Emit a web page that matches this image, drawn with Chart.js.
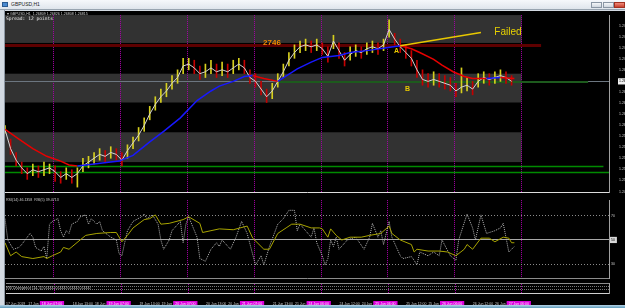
<!DOCTYPE html>
<html>
<head>
<meta charset="utf-8">
<script src="https://cdn.jsdelivr.net/npm/chart.js"></script>
<style>
body{margin:0;width:625px;height:308px;background:#d3dae2;position:relative;overflow:hidden;font-family:"Liberation Sans",Arial,sans-serif}
#title{position:absolute;left:0;top:0;width:625px;height:10px;background:linear-gradient(#f6f8fb,#dfe5ec);border-bottom:1px solid #98a4b0;box-sizing:border-box}
#title .ico{position:absolute;left:2px;top:2px;width:6px;height:5px;background:#4a8ad0;border:1px solid #2a5a90;box-sizing:border-box}
#title .tt{position:absolute;left:11px;top:1px;font-size:5px;line-height:7px;color:#222}
.btn{position:absolute;top:2px;height:6px;border:1px solid #8a96a4;box-sizing:border-box;background:linear-gradient(#f4f6f8,#cfd6de)}
#left{position:absolute;left:4px;top:10px;width:1px;height:296px;background:#8d98a4}
#panel{position:absolute;left:5px;top:11px;width:620px;height:294px;background:#000}
#bottom{position:absolute;left:0;top:305px;width:625px;height:3px;background:linear-gradient(#b8d4e6,#5e9cbc)}
canvas{position:absolute;left:5px}
.txt{position:absolute;color:#d0d0d0;white-space:nowrap}
</style>
</head>
<body>
<div id="title"><div class="ico"></div><div class="tt">GBPUSD,H1</div>
<div class="btn" style="left:591px;width:11px"></div>
<div class="btn" style="left:603px;width:11px"></div>
<div class="btn" style="left:614px;width:11px;background:linear-gradient(#f08a7a,#c8402e);border-color:#a03020"></div>
</div>
<div id="left"></div>
<div id="panel"></div>
<div id="bottom"></div>
<canvas id="main" width="620" height="186" style="top:11px"></canvas>
<canvas id="rsi" width="620" height="87" style="top:196px"></canvas>
<canvas id="div" width="620" height="22" style="top:283px"></canvas>
<div class="txt" style="left:7px;top:12px;font-size:3.6px">&#9662; GBPUSD,H1&nbsp; 1.26809 1.26826 1.26808 1.26815</div>
<div class="txt" style="left:6px;top:16px;font-size:4.6px;font-family:'DejaVu Sans Mono',monospace;color:#e8e8e8">Spread: 12 points</div>
<div class="txt" style="left:6px;top:198px;font-size:3.6px;color:#c8c8c8">RSI(14) 46.1358&nbsp; RSI(5) 39.4713</div>
<div class="txt" style="left:6px;top:286px;font-size:3.6px;color:#c8c8c8">RSI Divergence (14, 5) 0.0000 0.0000 0.0000 0.0000</div>

<script>
// PRICE DATA (GBPUSD H1, hour index from chart start, every 2nd bar)
const barHours = [0,2,4,6,8,10,12,14,16,18,20,22,24,26,28,30,32,34,36,38,40,42,44,46,48,50,52,54,56,58,
  60,62,64,66,68,70,72,74,76,78,80,82,84,86,88,90,92,94,96,98,100,102,104,106,108,110,112,114,116,118,
  120,122,124,126,128,130,132,134,136,138,140,142,144,146,148,150,152,154,156,158,160,162,164,166,168,170,172,174,176,178,180,182];
const closes = [1.25937,1.25607,1.25409,1.25277,1.25178,1.25244,1.25211,1.25244,1.25277,1.25211,
  1.25112,1.25178,1.25112,1.25178,1.25310,1.25376,1.25442,1.25508,1.25475,1.25541,
  1.25508,1.25409,1.25574,1.25706,1.25838,1.26003,1.26201,1.26366,1.26498,1.26597,
  1.26729,1.26828,1.27026,1.27059,1.26993,1.26894,1.26927,1.26993,1.26927,1.26960,
  1.26927,1.26993,1.27059,1.26993,1.26828,1.26762,1.26630,1.26498,1.26597,1.26762,
  1.26927,1.27125,1.27257,1.27356,1.27389,1.27356,1.27389,1.27323,1.27191,1.27455,
  1.27290,1.27125,1.27224,1.27290,1.27257,1.27323,1.27356,1.27323,1.27389,1.27653,
  1.27488,1.27356,1.27257,1.27158,1.26960,1.26795,1.26762,1.26795,1.26762,1.26729,
  1.26696,1.26597,1.26663,1.26696,1.26630,1.26762,1.26828,1.26795,1.26828,1.26861,
  1.26828,1.26762];
const highs = [1.26003,1.25772,1.25541,1.25376,1.25277,1.25343,1.25310,1.25376,1.25343,1.25310,
  1.25211,1.25277,1.25244,1.25277,1.25442,1.25475,1.25541,1.25607,1.25574,1.25640,
  1.25607,1.25541,1.25673,1.25805,1.25970,1.26135,1.26333,1.26498,1.26630,1.26729,
  1.26861,1.26960,1.27158,1.27158,1.27125,1.27026,1.27059,1.27125,1.27059,1.27092,
  1.27059,1.27125,1.27158,1.27125,1.26960,1.26894,1.26762,1.26630,1.26729,1.26894,
  1.27059,1.27257,1.27389,1.27455,1.27488,1.27455,1.27488,1.27422,1.27356,1.27554,
  1.27422,1.27257,1.27356,1.27389,1.27356,1.27422,1.27455,1.27422,1.27488,1.27818,
  1.27587,1.27488,1.27389,1.27290,1.27125,1.26960,1.26894,1.26927,1.26894,1.26861,
  1.26828,1.26729,1.26993,1.26828,1.26762,1.26894,1.26927,1.26894,1.26927,1.26960,
  1.26927,1.26861];
const lows = [1.25871,1.25508,1.25310,1.25178,1.25079,1.25145,1.25112,1.25145,1.25178,1.25046,
  1.25013,1.25079,1.25013,1.24947,1.25211,1.25277,1.25343,1.25409,1.25376,1.25442,
  1.25409,1.25310,1.25442,1.25607,1.25739,1.25904,1.26102,1.26267,1.26399,1.26498,
  1.26630,1.26729,1.26894,1.26960,1.26894,1.26795,1.26828,1.26894,1.26828,1.26861,
  1.26828,1.26894,1.26960,1.26894,1.26729,1.26663,1.26531,1.26399,1.26465,1.26663,
  1.26828,1.27026,1.27158,1.27257,1.27290,1.27257,1.27290,1.27224,1.27092,1.27323,
  1.27158,1.27026,1.27125,1.27191,1.27158,1.27224,1.27257,1.27224,1.27290,1.27521,
  1.27389,1.27257,1.27158,1.27026,1.26828,1.26696,1.26663,1.26696,1.26663,1.26630,
  1.26597,1.26498,1.26564,1.26597,1.26531,1.26663,1.26729,1.26696,1.26729,1.26762,
  1.26729,1.26696];
const lastPrice = 1.26762;

// MOVING AVERAGE
const maHours = [0,5,10,15,20,23,26,32,38,41,46,52,57,63,69,74,77,82,86,89,93,98,105,110,114,120,124,130,137,142,146,149,154,157,161,165,168,173,178,183];
const maValues = [1.25937,1.25772,1.25607,1.25475,1.25393,1.25327,1.25310,1.25343,1.25376,1.25393,
  1.25491,1.25722,1.25904,1.26135,1.26432,1.26597,1.26680,1.26762,1.26845,1.26861,
  1.26812,1.26762,1.26977,1.27092,1.27174,1.27207,1.27257,1.27290,1.27339,1.27372,
  1.27323,1.27257,1.27141,1.27042,1.26927,1.26845,1.26812,1.26812,1.26828,1.26812];

// TREND LINE (A -> Failed)
const trendHours = [142,171];
const trendPrices = [1.27372,1.27603];

// RSI(14) solid and RSI(5) dotted
const rsiSlowHours = [0,2,4,6,10,14,15,17,20,21,23,27,29,33,38,40,42,44,46,50,52,54,56,59,64,66,70,71,74,77,
  82,87,89,93,95,98,101,103,106,110,113,114,116,117,119,121,124,128,131,135,138,139,142,146,147,148,152,156,159,162,
  165,166,168,171,174,176,179,181,182,183];
const rsiSlow = [47.7,36.9,40.0,36.2,34.6,36.2,34.6,36.9,40.0,43.8,42.3,50.0,53.8,55.4,56.2,56.2,48.5,53.8,60.0,66.9,
  67.7,70.8,63.1,63.8,66.9,69.2,63.8,56.2,57.7,59.2,58.5,61.5,51.5,42.3,42.3,55.4,60.0,63.1,63.1,60.0,
  60.0,59.2,52.3,59.2,53.8,50.0,52.3,52.3,53.8,55.4,61.5,55.4,50.0,46.2,40.0,42.3,40.8,40.8,40.0,36.9,
  42.3,46.2,42.3,51.5,51.5,48.5,52.3,51.5,47.7,47.7];
const rsiFastHours = [0,1,3,5,6,9,10,11,13,14,15,16,17,19,20,21,22,23,24,26,27,29,30,31,33,34,35,38,40,41,
  42,43,44,46,49,50,51,53,55,56,57,59,60,63,64,65,66,69,70,72,74,76,77,78,81,83,85,87,90,92,
  93,95,98,100,102,104,105,106,108,110,111,112,114,115,116,117,118,119,120,123,126,129,131,132,134,135,136,138,139,142,
  143,146,147,148,149,152,154,156,157,160,162,163,166,168,169,171,173,176,178,179,181,183];
const rsiFast = [67.7,50.0,42.3,43.8,46.2,55.4,52.3,43.8,40.8,44.6,34.6,63.1,65.4,67.7,57.7,52.3,57.7,55.4,63.1,65.4,
  69.2,70.8,63.1,67.7,63.1,65.4,57.7,52.3,50.0,38.5,36.9,47.7,57.7,65.4,69.2,71.5,67.7,70.8,63.1,50.0,
  42.3,50.0,57.7,65.4,47.7,63.1,69.2,52.3,34.6,32.3,42.3,47.7,44.6,50.0,42.3,52.3,65.4,55.4,29.2,36.9,
  29.2,44.6,63.1,67.7,74.6,74.6,57.7,63.1,57.7,52.3,60.0,47.7,36.9,29.2,34.6,50.0,44.6,52.3,42.3,50.0,
  52.3,42.3,52.3,63.8,52.3,57.7,46.2,65.4,52.3,36.9,34.6,36.2,33.1,29.2,40.0,36.9,40.0,36.9,50.0,36.9,
  33.1,50.0,71.5,60.0,50.0,70.8,55.4,57.7,60.0,63.8,40.0,44.6];
const rsiLevels = [30,50,70];

// AXES
const priceTicks = [1.27720,1.27530,1.27340,1.27150,1.26960,1.26580,1.26390,1.26200,1.26010,1.25820,1.25630,1.25440,1.25250,1.25060,1.24870];
const daySeps = [17.6,41.6,65.6,89.6,113.6,137.6,161.6,185.6];
const timeTickHours = [0,8,24,32,48,56,72,80,96,104,120,128,144,152,168,176];
const timeTickLabels = ['17 Jun 2019','17 Jun 21:00','18 Jun 13:00','18 Jun 21:00','19 Jun 13:00','19 Jun 21:00','20 Jun 13:00','20 Jun 21:00',
  '21 Jun 13:00','21 Jun 21:00','24 Jun 12:00','24 Jun 20:00','25 Jun 12:00','25 Jun 20:00','26 Jun 12:00','26 Jun 20:00'];
const sepLabels = ['18 Jun 07:00','19 Jun 07:00','20 Jun 07:00','21 Jun 07:00','24 Jun 06:00','25 Jun 06:00','26 Jun 06:00','27 Jun 06:00'];

// ZONES, LEVEL LINES, NOTES
const zones = [[1.27422,1.27900],[1.26399,1.26894],[1.25376,1.25888]];
const zoneEnd = 185.6;
const hLines = [
  {price:1.27389, from:0, to:192.6, color:'#5e0000', width:3},
  {price:1.26762, from:0, to:217, color:'#6c7680', width:1},
  {price:1.26746, from:97.7, to:209.5, color:'#1d5a1d', width:2},
  {price:1.25310, from:0, to:215, color:'#008a00', width:1.5},
  {price:1.25211, from:0, to:217, color:'#008a00', width:1.5}
];
const notes = [
  {text:'2746', hour:95.9, price:1.27430, color:'#f08a00', font:'600 8px "Liberation Sans"'},
  {text:'Failed', hour:180.7, price:1.27604, color:'#e8d200', font:'10px "Liberation Sans"'},
  {text:'A', hour:140.7, price:1.27274, color:'#e8c800', font:'bold 7px "Liberation Sans"'},
  {text:'B', hour:144.6, price:1.26630, color:'#e8c800', font:'bold 7px "Liberation Sans"'}
];

const X_MIN = 0, X_MAX = 217;
const PRICE_MIN = 1.24847, PRICE_MAX = 1.27900;
const RSI_MIN = 17.69, RSI_MAX = 83.08;
const CLEAR = 'rgba(0,0,0,0)';

Chart.defaults.font.family = '"Liberation Sans", Arial, sans-serif';

const common = {
  responsive:false, animation:false, devicePixelRatio:1, events:[],
  plugins:{legend:{display:false}, tooltip:{enabled:false}}
};

// x axis with day separators as dotted magenta grid lines
function sepAxis(position, borderColor, height){
  return {
    type:'linear', position, min:X_MIN, max:X_MAX, offset:false,
    afterBuildTicks: s => { s.ticks = daySeps.map(v => ({value:v})); },
    afterFit: s => { s.height = height; },
    ticks:{display:false},
    grid:{color:'#a800a8', drawTicks:false, offset:false},
    border:{display:true, color:borderColor, dash: c => c.tick ? [1,1] : []}
  };
}

// zones + horizontal lines under the price
const zonePlugin = {
  id:'zones',
  beforeDraw(chart){
    const {ctx, chartArea, scales:{x, y}} = chart;
    ctx.save();
    ctx.fillStyle = '#323232';
    zones.forEach(z => {
      const top = y.getPixelForValue(z[1]), bot = y.getPixelForValue(z[0]);
      ctx.fillRect(chartArea.left, top, x.getPixelForValue(zoneEnd) - chartArea.left, bot - top);
    });
    ctx.restore();
  },
  beforeDatasetsDraw(chart){
    const {ctx, scales:{x, y}} = chart;
    ctx.save();
    hLines.forEach(l => {
      const py = Math.round(y.getPixelForValue(l.price)) + (l.width % 2 ? 0.5 : 0);
      ctx.strokeStyle = l.color; ctx.lineWidth = l.width;
      ctx.beginPath(); ctx.moveTo(x.getPixelForValue(l.from), py); ctx.lineTo(x.getPixelForValue(l.to), py); ctx.stroke();
    });
    ctx.restore();
  },
  afterDatasetsDraw(chart){
    const {ctx, scales:{x, y}} = chart;
    ctx.save();
    ctx.textAlign = 'center'; ctx.textBaseline = 'middle';
    notes.forEach(n => {
      ctx.font = n.font; ctx.fillStyle = n.color;
      ctx.fillText(n.text, x.getPixelForValue(n.hour), y.getPixelForValue(n.price));
    });
    ctx.restore();
  }
};

// MAIN PRICE CHART
const barColors = closes.map((c, k) => k > 0 && c < closes[k-1] ? '#c40000' : '#d6cf1e');
new Chart(document.getElementById('main'), {
  type:'line',
  data:{datasets:[
    {type:'line', data:trendHours.map((h,k) => ({x:h, y:trendPrices[k]})), borderColor:'#e8c800', borderWidth:1.5, pointRadius:0, order:0},
    {type:'line', data:maHours.map((h,k) => ({x:h, y:maValues[k]})), borderColor:'#1818ff', borderWidth:1.5, pointRadius:0, order:1,
      segment:{borderColor: c => c.p1.parsed.y > c.p0.parsed.y ? '#1818ff' : '#e80000'}},
    {type:'line', data:barHours.map((h,k) => ({x:h, y:closes[k]})), borderColor:'#d4d4d4', borderWidth:1, pointRadius:0, order:2},
    {type:'bar', data:barHours.map((h,k) => ({x:h, y:[lows[k], highs[k]]})), backgroundColor:barColors, barThickness:1, order:3}
  ]},
  options:{...common,
    layout:{padding:0},
    scales:{
      x: sepAxis('bottom', '#dcdcdc', 1),
      y:{position:'right', min:PRICE_MIN, max:PRICE_MAX,
        afterBuildTicks: s => { s.ticks = priceTicks.concat([lastPrice]).map(v => ({value:v})); },
        afterFit: s => { s.width = 16; },
        grid:{display:false},
        border:{color:'#a0a0a0'},
        ticks:{font:{size:3.5}, padding:2, callback: v => v.toFixed(5),
          color: c => c.tick.value === lastPrice ? '#000' : '#c8c8c8',
          showLabelBackdrop:true,
          backdropColor: c => c.tick.value === lastPrice ? '#f0f0f0' : CLEAR,
          backdropPadding:{top:1, bottom:1, left:1, right:2}}
      }
    }
  },
  plugins:[zonePlugin]
});

// RSI PANEL
new Chart(document.getElementById('rsi'), {
  type:'line',
  data:{datasets:[
    {data:rsiSlowHours.map((h,k) => ({x:h, y:rsiSlow[k]})), borderColor:'#a8a400', borderWidth:1, pointRadius:0, order:0},
    {data:rsiFastHours.map((h,k) => ({x:h, y:rsiFast[k]})), borderColor:'#b4b4b4', borderWidth:1, borderDash:[1,1], pointRadius:0, order:1}
  ]},
  options:{...common,
    layout:{padding:{top:1}},
    scales:{
      x: sepAxis('bottom', '#8c8c8c', 1),
      y:{position:'right', min:RSI_MIN, max:RSI_MAX,
        afterBuildTicks: s => { s.ticks = rsiLevels.map(v => ({value:v})); },
        afterFit: s => { s.width = 16; },
        grid:{color: c => c.tick && c.tick.value === 50 ? '#a8a8a8' : '#8a8a8a', drawTicks:false},
        border:{color:'#a0a0a0', dash: c => c.tick && c.tick.value !== 50 ? [1,2] : []},
        ticks:{font:{size:3.5}, padding:2,
          color: c => c.tick.value === 50 ? '#000' : '#c8c8c8',
          showLabelBackdrop:true,
          backdropColor: c => c.tick.value === 50 ? '#d8d8d8' : CLEAR,
          backdropPadding:{top:1, bottom:1, left:1, right:2}}
      }
    }
  }
});

// DIVERGENCE PANEL + TIME AXIS
const timeTicks = timeTickHours.map((h,k) => ({value:h, label:timeTickLabels[k], sep:false}))
  .concat(daySeps.map((s,k) => ({value:s - 4.7, label:sepLabels[k], sep:true})))
  .sort((a,b) => a.value - b.value);
new Chart(document.getElementById('div'), {
  type:'line',
  data:{datasets:[]},
  options:{...common,
    layout:{padding:0},
    scales:{
      x:{type:'linear', position:'bottom', min:X_MIN, max:X_MAX, offset:false,
        afterBuildTicks: s => { s.ticks = timeTicks.map(t => ({value:t.value})); },
        afterFit: s => { s.height = 12; },
        grid:{display:false},
        border:{color:'#d0d0d0'},
        ticks:{autoSkip:false, maxRotation:0, minRotation:0, align:'start', padding:1, font:{size:3.5},
          callback: (v, i) => timeTicks[i].label,
          color: c => timeTicks[c.index].sep ? '#ffe6ff' : '#c8c8c8',
          showLabelBackdrop:true,
          backdropColor: c => timeTicks[c.index].sep ? '#dc00dc' : CLEAR,
          backdropPadding:{top:1, bottom:1, left:2, right:2}}
      },
      xs: sepAxis('top', '#8c8c8c', 0),
      y:{position:'right', min:0, max:1,
        afterBuildTicks: s => { s.ticks = [{value:0.35},{value:0.7}]; },
        afterFit: s => { s.width = 16; },
        ticks:{display:false},
        grid:{color:'#767676', drawTicks:false},
        border:{color:'#a0a0a0', dash: c => c.tick ? [1,1] : []}
      }
    }
  }
});
</script>
</body>
</html>
